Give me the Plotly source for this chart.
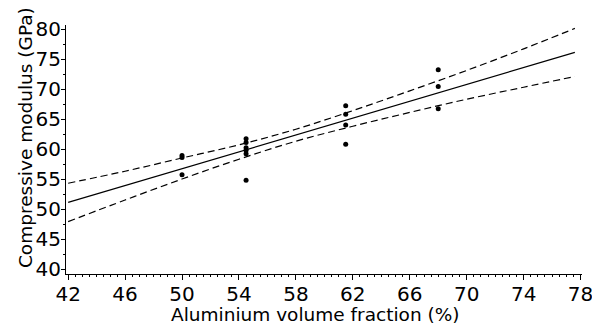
import plotly.graph_objects as go

# Measured data points
x_pts = [50, 50, 50,
         54.5, 54.5, 54.5, 54.5, 54.5, 54.5,
         61.5, 61.5, 61.5, 61.5,
         68, 68, 68]
y_pts = [58.9, 58.6, 55.7,
         61.7, 61.1, 60.2, 59.8, 59.2, 54.8,
         67.2, 65.8, 64.0, 60.8,
         73.2, 70.4, 66.7]

# Regression line
fit_x = [42, 77.6]
fit_y = [51.1, 76.1]

# Confidence band
band_x = [42, 46, 50, 54, 58, 62, 66, 70, 74, 77.6]
band_upper = [54.3, 56.3, 58.5, 60.7, 63.3, 66.4, 69.7, 73.1, 76.7, 80.1]
band_lower = [47.9, 51.5, 55.0, 58.3, 61.3, 63.8, 66.1, 68.3, 70.3, 72.1]

x_ticks = [42, 46, 50, 54, 58, 62, 66, 70, 74, 78]
y_ticks = [40, 45, 50, 55, 60, 65, 70, 75, 80]

x_title = "Aluminium volume fraction (%)"
y_title = "Compressive modulus (GPa)"

fig = go.Figure()
dash = "7px,4px"
fig.add_trace(go.Scatter(x=band_x, y=band_upper, mode="lines",
                         line=dict(color="black", width=1.2, dash=dash, shape="spline"),
                         hoverinfo="skip"))
fig.add_trace(go.Scatter(x=band_x, y=band_lower, mode="lines",
                         line=dict(color="black", width=1.2, dash=dash, shape="spline"),
                         hoverinfo="skip"))
fig.add_trace(go.Scatter(x=fit_x, y=fit_y, mode="lines",
                         line=dict(color="black", width=1.2)))
fig.add_trace(go.Scatter(x=x_pts, y=y_pts, mode="markers",
                         marker=dict(color="black", size=5, symbol="circle")))

font_family = "DejaVu Sans, Liberation Sans, sans-serif"
fig.update_layout(
    width=592, height=317,
    margin=dict(l=58, r=18, t=17, b=51),
    paper_bgcolor="white", plot_bgcolor="white",
    showlegend=False,
    font=dict(family=font_family, color="black", size=18),
    xaxis=dict(
        range=[41.85, 78.1], tickmode="array", tickvals=x_ticks,
        ticktext=[str(v) for v in x_ticks],
        showline=True, linecolor="black", linewidth=1,
        ticks="outside", ticklen=5, tickwidth=1, tickcolor="black",
        showgrid=False, zeroline=False, automargin=False,
        minor=dict(dtick=0.5, tick0=42, ticks="outside", ticklen=2, tickcolor="black"),
        tickfont=dict(size=20), ticklabelstandoff=-3,
    ),
    yaxis=dict(
        range=[39.17, 80.67], tickmode="array", tickvals=y_ticks,
        ticktext=[str(v) for v in y_ticks],
        showline=True, linecolor="black", linewidth=1,
        ticks="outside", ticklen=4, tickwidth=1, tickcolor="black",
        showgrid=False, zeroline=False, automargin=False,
        minor=dict(dtick=2.5, tick0=40, ticks="outside", ticklen=2, tickcolor="black"),
        tickfont=dict(size=20), ticklabelstandoff=-4,
    ),
    annotations=[
        dict(text=x_title, xref="paper", yref="paper", x=0.4826, y=0,
             xanchor="center", yanchor="middle", yshift=-40, showarrow=False,
             font=dict(size=18.5, family=font_family, color="black")),
        dict(text=y_title, xref="paper", yref="paper", x=0, y=0.546,
             xanchor="center", yanchor="middle", xshift=-41, textangle=-90,
             showarrow=False,
             font=dict(size=18.5, family=font_family, color="black")),
    ],
)

fig.write_html("out.html")
